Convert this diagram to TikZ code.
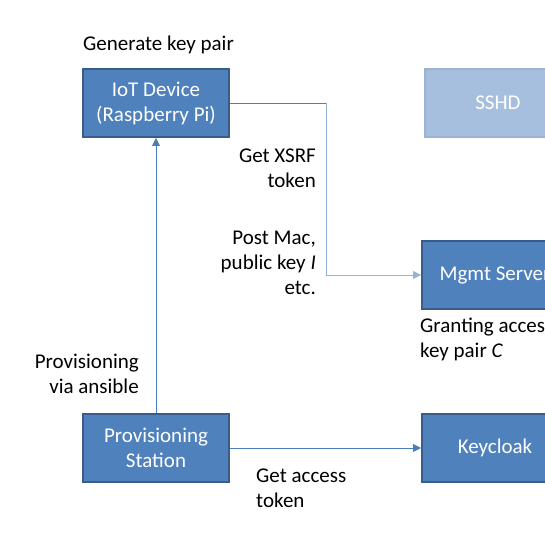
\documentclass[tikz,border=0pt]{standalone}
\usepackage{fontspec}
\setmainfont{Carlito}
\usetikzlibrary{arrows.meta}
\definecolor{boxfill}{HTML}{4F81BD}
\definecolor{boxline}{HTML}{385D8A}
\definecolor{fadefill}{HTML}{A7BFDE}
\definecolor{fadeline}{HTML}{9DB2CE}
\definecolor{linkdark}{HTML}{4A7EBB}
\definecolor{linklight}{HTML}{95B3D7}
\tikzset{
  boxnode/.style={draw=boxline, fill=boxfill, line width=2pt, minimum width=146pt, minimum height=68pt,
    inner sep=0pt, text=white, align=center, font=\fontsize{21}{25}\selectfont},
  fadenode/.style={boxnode, draw=fadeline, fill=fadefill},
  lbl/.style={inner sep=0pt, font=\fontsize{21}{25}\selectfont},
  link/.style={draw=linkdark, line width=0.9pt},
  linkl/.style={draw=linklight, line width=0.9pt},
  tip/.style={-{Triangle[length=8pt,width=8pt]}}
}
\begin{document}
\begin{tikzpicture}[x=1pt,y=1pt]
\useasboundingbox (0,0) rectangle (545,540);
\clip (0,0) rectangle (545,540);
\fill[white] (0,0) rectangle (545,540);
\node[boxnode] (iot) at (156,437) {IoT Device\\(Raspberry Pi)};
\node[fadenode] (sshd) at (498,437) {SSHD};
\node[boxnode] (mgmt) at (495,265) {Mgmt Server};
\node[boxnode] (prov) at (156,92) {Provisioning\\Station};
\node[boxnode] (kc) at (495,92) {Keycloak};
\coordinate (turn) at (326,437);
\coordinate (down) at (326,265);
\draw[link] (iot.east) -- (turn);
\draw[linkl,tip] (turn) -- (down) -- (mgmt.west);
\draw[link,tip] (prov.north) -- (iot.south);
\draw[link,tip] (prov.east) -- (kc.west);
\node[lbl, anchor=base west] (gen) at (83,489) {Generate key pair};
\node[lbl, anchor=base east, align=right] (xsrf) at (316,352) {Get XSRF\\token};
\node[lbl, anchor=base east, align=right] (post) at (316,245) {Post Mac,\\public key \textit{I}\\etc.};
\node[lbl, anchor=base west, align=left] (grant) at (420,182) {Granting access\\key pair \textit{C}};
\node[lbl, anchor=base east, align=right] (viaans) at (139,146) {Provisioning\\via ansible};
\node[lbl, anchor=base west, align=left] (getacc) at (256,33) {Get access\\token};
\end{tikzpicture}
\end{document}
